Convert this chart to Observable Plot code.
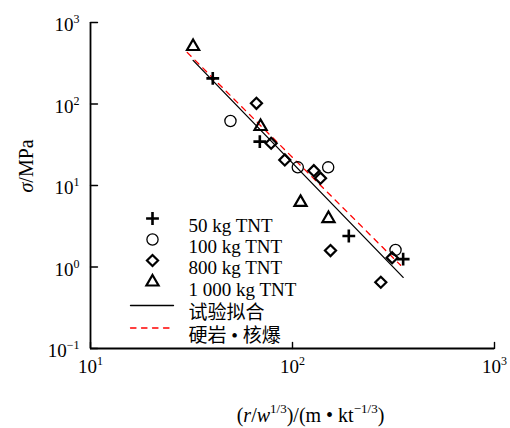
<!DOCTYPE html>
<html><head><meta charset="utf-8">
<script src="https://cdn.jsdelivr.net/npm/d3@7"></script>
<script src="https://cdn.jsdelivr.net/npm/@observablehq/plot@0.6"></script>
<style>
html,body{margin:0;padding:0;background:#fff;}
#chart{width:510px;height:428px;}
</style></head><body><div id="chart"></div>
<script>
// ---- data ----
const xTicks = [10, 100, 1000];
const xTickLabels = ["10^1", "10^2", "10^3"];
const yTicks = [0.1, 1, 10, 100, 1000];
const yTickLabels = ["10^\u22121", "10^0", "10^1", "10^2", "10^3"];

const seriesNames = ["50 kg TNT", "100 kg TNT", "800 kg TNT", "1 000 kg TNT"];
const lineNames = ["试验拟合", "硬岩 • 核爆"];

const plus50X = [40.3, 68.9, 190, 353];
const plus50Y = [206, 34.5, 2.4, 1.25];
const circle100X = [49.3, 106.2, 150.2, 323.6];
const circle100Y = [61.9, 16.7, 16.7, 1.62];
const diamond800X = [66.3, 78.4, 91.6, 127.5, 137.6, 154.2, 273.6, 311.5];
const diamond800Y = [102, 33, 20.6, 15.2, 12.3, 1.59, 0.65, 1.30];
const triangle1000X = [32.2, 69.5, 109.6, 150.7];
const triangle1000Y = [508, 53, 6.2, 3.93];

const fitX = [32.2, 353];
const fitY = [343, 0.745];
const nuclearX = [30.1, 343];
const nuclearY = [430, 1.05];

// ---- styles ----
const FS = 19;
const dashes = "5.5,5.5";
const symbolStyles = [
  {symbol: "plus", r: 4.2, strokeWidth: 2.6},
  {symbol: "circle", r: 5.6, strokeWidth: 1.3},
  {symbol: "diamond2", r: 5, strokeWidth: 2.2},
  {symbol: "triangle2", r: 5.8, strokeWidth: 2.2}
];
const seriesX = [plus50X, circle100X, diamond800X, triangle1000X];
const seriesY = [plus50Y, circle100Y, diamond800Y, triangle1000Y];
const legendRowDy = [196, 217, 238, 259.5, 283, 305.5];
const hline = {draw(ctx, l) { ctx.moveTo(0, 0); ctx.lineTo(l, 0); }};
const vline = {draw(ctx, l) { ctx.moveTo(0, 0); ctx.lineTo(0, -l); }};

const marks = [
  Plot.vector(xTicks, {x: d => d, frameAnchor: "bottom", length: 6, rotate: 0, anchor: "start",
    shape: vline, stroke: "#000", strokeWidth: 1.4}),
  Plot.vector(yTicks, {y: d => d, frameAnchor: "left", length: 7, rotate: 0, anchor: "start",
    shape: hline, stroke: "#000", strokeWidth: 1.4}),
  Plot.axisX(xTicks, {tickSize: 0, tickPadding: 11, fontSize: FS,
    tickFormat: d => xTickLabels[xTicks.indexOf(d)]}),
  Plot.axisY(yTicks, {tickSize: 0, tickPadding: 11, fontSize: FS, dy: 2.5,
    tickFormat: d => yTickLabels[yTicks.indexOf(d)]}),
  Plot.ruleX([10], {strokeWidth: 1.8}),
  Plot.ruleY([0.1], {strokeWidth: 1.8}),
  Plot.line(fitX, {x: fitX, y: fitY, stroke: "#000", strokeWidth: 1.3}),
  Plot.line(nuclearX, {x: nuclearX, y: nuclearY, stroke: "#ff0000", strokeWidth: 1.3, strokeDasharray: dashes})
];
seriesX.forEach((xs, k) => {
  const s = symbolStyles[k];
  marks.push(Plot.dot(xs, {x: xs, y: seriesY[k], symbol: s.symbol, r: s.r,
    stroke: "#000", fill: "none", strokeWidth: s.strokeWidth}));
  marks.push(Plot.dot([seriesNames[k]], {frameAnchor: "top-left", dx: 62, dy: legendRowDy[k],
    symbol: s.symbol, r: s.r, stroke: "#000", fill: "none", strokeWidth: s.strokeWidth}));
  marks.push(Plot.text([seriesNames[k]], {frameAnchor: "top-left", dx: 98, dy: legendRowDy[k],
    text: d => d, textAnchor: "start", fontSize: FS}));
});
lineNames.forEach((name, k) => {
  marks.push(Plot.vector([name], {frameAnchor: "top-left", dx: 40, dy: legendRowDy[4 + k],
    length: 43, rotate: 0, anchor: "start", shape: hline,
    stroke: k === 0 ? "#000" : "#ff0000", strokeWidth: 1.3,
    strokeDasharray: k === 0 ? null : dashes}));
  marks.push(Plot.text([name], {frameAnchor: "top-left", dx: 98, dy: legendRowDy[4 + k],
    text: d => d, textAnchor: "start", fontSize: FS}));
});
marks.push(Plot.text(["xtitle"], {frameAnchor: "bottom", dx: 18, dy: 73, lineAnchor: "bottom",
  text: d => d, fontSize: 20, ariaLabel: "x-title"}));
marks.push(Plot.text(["ytitle"], {frameAnchor: "left", dx: -64, dy: 7, rotate: -90,
  text: d => d, fontSize: 20, ariaLabel: "y-title"}));

const svg = Plot.plot({
  width: 510, height: 428,
  marginLeft: 90, marginRight: 16, marginTop: 22, marginBottom: 80,
  style: {fontFamily: "'Liberation Serif', 'Noto Sans CJK SC', serif", fontSize: FS + "px", color: "#000", background: "#fff", overflow: "visible"},
  x: {type: "log", domain: [10, 1000]},
  y: {type: "log", domain: [0.1, 1000]},
  marks
});
document.getElementById("chart").appendChild(svg);

// ---- rich text (superscripts / italics) ----
function richText(el, parts, fs) {
  const t = d3.select(el);
  t.text("");
  const supFs = Math.round(fs * 0.64);
  const shift = fs * 0.42;
  let up = false;
  for (const p of parts) {
    const s = t.append("tspan").text(p.t);
    if (p.i) s.attr("font-style", "italic");
    if (p.sup) {
      s.attr("font-size", supFs + "px");
      if (!up) { s.attr("dy", -shift); up = true; }
    } else if (up) { s.attr("dy", shift); up = false; }
  }
}
d3.select(svg).selectAll("text").each(function() {
  const c = this.textContent;
  if (c.startsWith("10^")) {
    richText(this, [{t: "10"}, {t: c.slice(3), sup: 1}], FS);
  } else if (c === "xtitle") {
    richText(this, [{t: "("}, {t: "r", i: 1}, {t: "/"}, {t: "w", i: 1}, {t: "1/3", sup: 1},
      {t: ")/(m • kt"}, {t: "\u22121/3", sup: 1}, {t: ")"}], 20);
  } else if (c === "ytitle") {
    richText(this, [{t: "σ", i: 1}, {t: "/MPa"}], 20);
  }
});
</script>
</body></html>
